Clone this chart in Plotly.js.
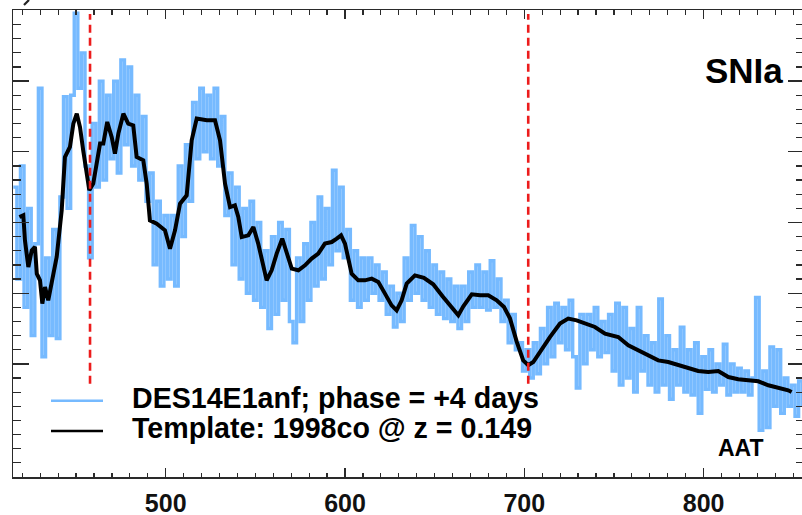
<!DOCTYPE html>
<html>
<head>
<meta charset="utf-8">
<script src="https://cdn.plot.ly/plotly-3.0.1.min.js"></script>
<style>
html,body{margin:0;padding:0;background:#fff;overflow:hidden;}
#chart{width:804px;height:515px;}
</style>
</head>
<body>
<div id="chart"></div>
<script>
// ---------- data ----------
// observed spectrum (DES14E1anf), wavelength (nm) and flux (arbitrary units)
const specWave = [415,417,419,421,423,425,427,429,431,433,435,437,439,441,443,445,447,449,451,453,455,457,459,461,463,465,467,469,471,473,475,477,479,481,483,485,487,489,491,493,495,497,499,501,503,505,507,509,511,513,515,517,519,521,523,525,527,529,531,533,535,537,539,541,543,545,547,549,551,553,555,557,559,561,563,565,567,569,571,573,575,577,579,581,583,585,587,589,591,593,595,597,599,601,603,605,607,609,611,613,615,617,619,621,623,625,627,629,631,633,635,637,639,641,643,645,647,649,651,653,655,657,659,661,663,665,667,669,671,673,675,677,679,681,683,685,687,689,691,693,695,697,699,701,703,705,707,709,711,713,715,717,719,721,723,725,727,729,731,733,735,737,739,741,743,745,747,749,751,753,755,757,759,761,763,765,767,769,771,773,775,777,779,781,783,785,787,789,791,793,795,797,799,801,803,805,807,809,811,813,815,817,819,821,823,825,827,829,831,833,835,837,839,841,843,845,847,849,851,853,855];
const specFlux = [20.5,14.0,22.0,12.0,19.0,10.0,16.5,27.5,8.5,15.5,10.0,17.5,9.8,19.8,26.9,19.0,27.0,32.8,27.5,30.0,22.0,15.5,25.0,20.5,28.0,21.0,27.0,22.5,28.0,21.5,29.5,23.5,29.0,22.0,27.0,21.0,25.5,19.5,21.5,15.0,19.5,13.5,18.5,14.0,18.5,13.5,22.0,17.0,23.5,19.5,26.5,22.5,27.5,23.0,27.0,22.5,27.5,22.0,25.5,18.5,21.5,15.0,20.5,14.0,19.0,13.0,19.5,12.5,18.0,12.0,16.0,10.5,17.0,11.5,18.0,12.5,17.5,11.0,9.5,15.5,11.0,16.5,12.5,18.0,13.5,19.8,14.0,19.0,15.0,21.7,16.0,20.5,15.5,17.5,12.5,16.0,12.0,15.5,12.5,15.5,13.0,15.0,12.5,14.5,11.5,13.5,10.6,13.0,11.0,15.5,12.5,17.8,13.0,17.0,12.5,16.0,12.0,15.0,11.5,14.5,11.2,14.0,11.0,13.5,10.5,13.5,11.0,14.5,12.0,15.0,12.0,14.5,11.8,15.3,12.0,14.0,11.0,12.5,9.5,11.5,9.0,9.5,7.5,9.0,7.0,9.5,7.3,10.5,8.0,12.0,8.5,12.3,9.5,12.0,9.0,12.5,8.5,6.3,11.5,8.0,11.5,9.0,12.0,8.5,11.0,8.8,11.5,7.5,12.3,6.5,12.0,7.0,10.5,6.0,12.0,7.5,10.0,6.5,9.5,6.0,12.6,6.5,10.0,5.5,9.0,6.5,10.6,6.0,9.0,5.8,9.5,4.5,8.5,6.2,9.0,6.0,8.0,6.5,9.4,5.8,8.0,6.0,7.7,6.0,7.5,5.8,7.0,12.7,3.3,7.5,3.5,9.2,5.0,9.0,4.5,7.0,5.0,6.5,4.3,6.8,5.0];

// template fit (1998co @ z = 0.149)
const tmplWave = [418.4,420.6,421.5,423.4,425.3,427.1,428.1,429.9,431.2,432.7,434.5,436.4,439.2,442.0,443.8,446.6,448.5,450.4,452.2,454.0,455.9,457.4,459.6,461.9,463.4,465.2,467.4,469.9,471.7,473.6,476.4,479.1,481.9,483.8,487.5,489.4,491.2,495.0,499.6,502.4,505.2,508.0,511.7,514.5,517.3,522.9,527.5,530.3,533.1,535.9,538.6,540.5,542.4,546.1,548.9,551.6,554.4,556.3,559.1,561.9,565.0,567.5,570.3,574.0,577.7,581.4,585.1,588.8,592.6,595.4,597.8,600.0,603.7,607.4,611.1,614.9,618.6,622.3,626.0,628.8,631.6,634.4,639.0,644.0,649.2,654.4,659.5,663.2,666.0,670.7,675.3,679.9,684.6,688.7,692.0,695.8,699.4,702.2,705.0,708.7,714.3,719.9,724.5,729.2,734.8,739.4,745.0,752.4,758.0,763.6,769.1,774.7,780.3,785.9,791.5,797.0,802.6,808.2,813.8,819.3,824.9,830.5,836.1,841.6,847.2,849.1];
const tmplFlux = [18.39,18.51,16.74,14.85,16.03,16.27,14.38,13.91,12.26,13.44,12.50,13.68,15.56,18.86,22.63,23.34,24.99,25.70,24.75,23.10,21.22,20.28,20.75,22.63,23.58,23.58,25.11,24.04,22.87,24.29,25.70,24.99,24.87,22.63,22.40,20.75,18.15,17.92,17.45,16.15,17.45,19.33,19.92,23.81,25.35,25.23,25.23,23.81,20.75,19.09,19.21,18.39,16.97,17.09,17.68,16.51,14.85,13.91,14.62,15.80,16.86,15.80,14.74,14.62,14.97,15.45,15.80,16.51,16.62,16.86,17.09,16.51,14.38,13.91,13.91,14.03,13.79,12.97,12.14,11.79,12.50,13.68,14.26,14.09,13.63,12.78,11.97,11.44,12.07,12.92,12.85,12.85,12.50,12.02,11.22,9.56,8.25,7.90,8.13,8.84,9.90,10.85,11.20,11.08,10.85,10.61,10.14,9.90,9.31,8.96,8.61,8.25,8.13,7.90,7.67,7.50,7.43,7.50,7.07,6.91,6.84,6.77,6.49,6.32,6.13,6.01];

// feature markers (red dashed lines)
const featureWave = [457.8, 702.2];
const featureSpan = [6.6, 32.75];

// axes
const xTicks = [500, 600, 700, 800];
const xTickText = ['500', '600', '700', '800'];
const yMajorTicks = [8, 13, 18, 23, 28];

// text
const legendLabels = ['DES14E1anf; phase = +4 days', 'Template: 1998co @ z = 0.149'];
const typeLabel = 'SNIa';
const telescopeLabel = 'AAT';

// ---------- styling / layout ----------
const W = 804, H = 515, ML = 13, MR = 0, MT = 10, MB = 38;
const PW = W - ML - MR, PH = H - MT - MB;
const px = v => (v - ML) / PW;          // page x -> paper x
const py = v => (H - MB - v) / PH;      // page y -> paper y

const blue = 'rgb(118,186,255)';
const axisCol = '#2a2a2a';
const FONT = 'Liberation Sans, Arial, Helvetica, sans-serif';

const traces = [
  {x: specWave, y: specFlux, type: 'scatter', mode: 'lines',
   line: {color: blue, width: 3.4, shape: 'hv'}, hoverinfo: 'skip'},
  {x: tmplWave, y: tmplFlux, type: 'scatter', mode: 'lines',
   line: {color: '#000', width: 4}, hoverinfo: 'skip'}
];
featureWave.forEach(w => traces.push({
  x: [w, w], y: featureSpan, type: 'scatter', mode: 'lines',
  line: {color: 'rgb(236,28,28)', width: 2.6, dash: '8px,5px'}, hoverinfo: 'skip'
}));

const axisCommon = {
  showgrid: false, zeroline: false, showline: true, linecolor: axisCol, linewidth: 1.5,
  ticks: 'inside', tickcolor: axisCol, tickwidth: 1.3, mirror: 'allticks'
};

const layout = {
  width: W, height: H,
  margin: {l: ML, r: MR, t: MT, b: MB, pad: 0},
  paper_bgcolor: '#fff', plot_bgcolor: '#fff',
  showlegend: false,
  xaxis: Object.assign({}, axisCommon, {
    range: [414.84, 856.0],
    tickmode: 'array', tickvals: xTicks, ticktext: xTickText, ticklen: 9,
    ticklabelstandoff: 3,
    tickfont: {family: FONT, size: 25, color: '#111', weight: 'bold'},
    minor: {ticks: 'inside', ticklen: 4.5, dtick: 10, tick0: 0, tickcolor: axisCol, tickwidth: 1.2}
  }),
  yaxis: Object.assign({}, axisCommon, {
    range: [0, 33.03],
    tickmode: 'array', tickvals: yMajorTicks, ticklen: 16, showticklabels: false,
    minor: {ticks: 'inside', ticklen: 8, dtick: 1, tick0: 0, tickcolor: axisCol, tickwidth: 1.2}
  }),
  shapes: [
    {type: 'line', xref: 'paper', yref: 'paper', x0: px(51), x1: px(103), y0: py(400.7), y1: py(400.7),
     line: {color: blue, width: 2.5}},
    {type: 'line', xref: 'paper', yref: 'paper', x0: px(51), x1: px(103), y0: py(431), y1: py(431),
     line: {color: '#000', width: 2.5}},
    {type: 'line', xref: 'paper', yref: 'paper', x0: px(24), x1: px(29), y0: py(5), y1: py(0),
     line: {color: '#222', width: 2.2}}
  ],
  annotations: [
    {text: legendLabels[0], xref: 'paper', yref: 'paper', x: px(130), y: py(397.5),
     xanchor: 'left', yanchor: 'middle', showarrow: false,
     font: {family: FONT, size: 28.6, color: '#000', weight: 'bold'}},
    {text: legendLabels[1], xref: 'paper', yref: 'paper', x: px(130), y: py(427.8),
     xanchor: 'left', yanchor: 'middle', showarrow: false,
     font: {family: FONT, size: 28.6, color: '#000', weight: 'bold'}},
    {text: typeLabel, xref: 'paper', yref: 'paper', x: px(743.6), y: py(70.3),
     xanchor: 'center', yanchor: 'middle', showarrow: false,
     font: {family: FONT, size: 35, color: '#000', weight: 'bold'}},
    {text: telescopeLabel, xref: 'paper', yref: 'paper', x: px(740.8), y: py(447.5),
     xanchor: 'center', yanchor: 'middle', showarrow: false,
     font: {family: FONT, size: 23, color: '#000', weight: 'bold'}}
  ]
};

Plotly.newPlot('chart', traces, layout, {staticPlot: true, displayModeBar: false});
</script>
</body>
</html>
